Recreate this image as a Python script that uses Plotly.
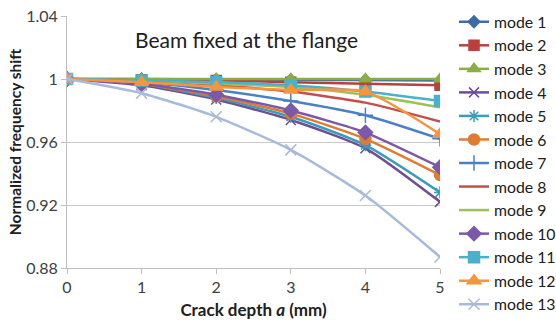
import plotly.graph_objects as go

crack_depth = [0, 1, 2, 3, 4, 5]

mode_names = ["mode 1", "mode 2", "mode 3", "mode 4", "mode 5", "mode 6", "mode 7",
              "mode 8", "mode 9", "mode 10", "mode 11", "mode 12", "mode 13"]

mode1 = [1.0, 1.0, 0.9998, 0.9995, 0.9993, 0.999]
mode2 = [1.0, 0.9995, 0.999, 0.998, 0.997, 0.996]
mode3 = [1.0, 1.0, 1.0, 1.0, 1.0, 1.0]
mode4 = [1.0, 0.996, 0.987, 0.974, 0.956, 0.922]
mode5 = [1.0, 0.997, 0.988, 0.976, 0.958, 0.928]
mode6 = [1.0, 0.997, 0.989, 0.978, 0.962, 0.939]
mode7 = [1.0, 0.998, 0.993, 0.986, 0.977, 0.962]
mode8 = [1.0, 0.999, 0.996, 0.992, 0.985, 0.973]
mode9 = [1.0, 0.999, 0.997, 0.995, 0.990, 0.982]
mode10 = [1.0, 0.997, 0.990, 0.980, 0.966, 0.944]
mode11 = [1.0, 0.999, 0.998, 0.996, 0.992, 0.986]
mode12 = [1.0, 0.998, 0.995, 0.993, 0.992, 0.965]
mode13 = [1.0, 0.991, 0.976, 0.955, 0.926, 0.887]

series = [mode1, mode2, mode3, mode4, mode5, mode6, mode7,
          mode8, mode9, mode10, mode11, mode12, mode13]

colors = ["#3C6BA8", "#B8413E", "#8AAE45", "#6E4F96", "#3A9DB8", "#E07B30", "#4A80C4",
          "#C44E4A", "#9CC15A", "#7B59A8", "#4BB0CC", "#F8943E", "#A7BADB"]
symbols = ["diamond", "square", "triangle-up", "x-thin", "asterisk", "circle", "cross-thin",
           None, None, "diamond", "square", "triangle-up", "x-thin"]
sizes = [9, 10, 11, 10, 10, 11, 11, 0, 0, 11, 11, 12, 11]

y_ticks = [0.88, 0.92, 0.96, 1.0, 1.04]
y_ticktext = ["0.88", "0.92", "0.96", "1", "1.04"]
x_ticks = [0, 1, 2, 3, 4, 5]

fig = go.Figure()
for name, vals, c, s, sz in zip(mode_names, series, colors, symbols, sizes):
    if s is None:
        fig.add_trace(go.Scatter(x=crack_depth, y=vals, name=name, mode="lines",
                                 line=dict(color=c, width=2.5, shape="spline", smoothing=0.6)))
    else:
        fig.add_trace(go.Scatter(x=crack_depth, y=vals, name=name, mode="lines+markers",
                                 line=dict(color=c, width=2.5, shape="spline", smoothing=0.6),
                                 marker=dict(symbol=s, size=sz, color=c,
                                             line=dict(color=c, width=1.5))))

font_family = "Lato, 'Open Sans', sans-serif"
W, H = 556, 322

fig.update_layout(
    width=W, height=H,
    margin=dict(l=67, r=116, t=16, b=54, autoexpand=False),
    paper_bgcolor="white", plot_bgcolor="white",
    font=dict(family=font_family, size=16, color="#404040"),
    showlegend=True,
    legend=dict(xref="container", yref="container", x=454 / W, y=1 - 5 / H,
                xanchor="left", yanchor="top", maxheight=400,
                font=dict(size=15.8, color="#202020"), itemwidth=30,
                bgcolor="rgba(0,0,0,0)", tracegroupgap=0),
    xaxis=dict(range=[0, 5], tickvals=x_ticks, showgrid=False, zeroline=False,
               showline=True, linecolor="#BFBFBF", linewidth=1, automargin=False,
               ticks="outside", ticklen=5, tickcolor="#BFBFBF",
               tickfont=dict(size=16, color="#404040"),
               title=dict(text="<b>Crack depth <i>a</i> (mm)</b>", font=dict(size=17, color="#202020"),
                          standoff=8)),
    yaxis=dict(range=[0.88, 1.04], tickvals=y_ticks, ticktext=y_ticktext,
               showgrid=True, gridcolor="#C8C8C8", gridwidth=1, zeroline=False,
               showline=True, linecolor="#BFBFBF", linewidth=1, automargin=False,
               ticks="outside", ticklen=5, tickcolor="#BFBFBF", ticklabeloverflow="allow",
               tickfont=dict(size=16, color="#404040"),
               title=dict(text="<b>Normalized frequency shift</b>", font=dict(size=15.5, color="#202020"),
                          standoff=0)),
    annotations=[dict(text="Beam fixed at the flange", x=2.4, y=1.0248, xref="x",
                      yref="y", showarrow=False, xanchor="center", yanchor="middle",
                      font=dict(size=21, color="#202020"))],
)

fig.write_html("out.html", config={"displayModeBar": False},
               post_script="document.body.style.margin='0';document.body.style.overflow='hidden';")
